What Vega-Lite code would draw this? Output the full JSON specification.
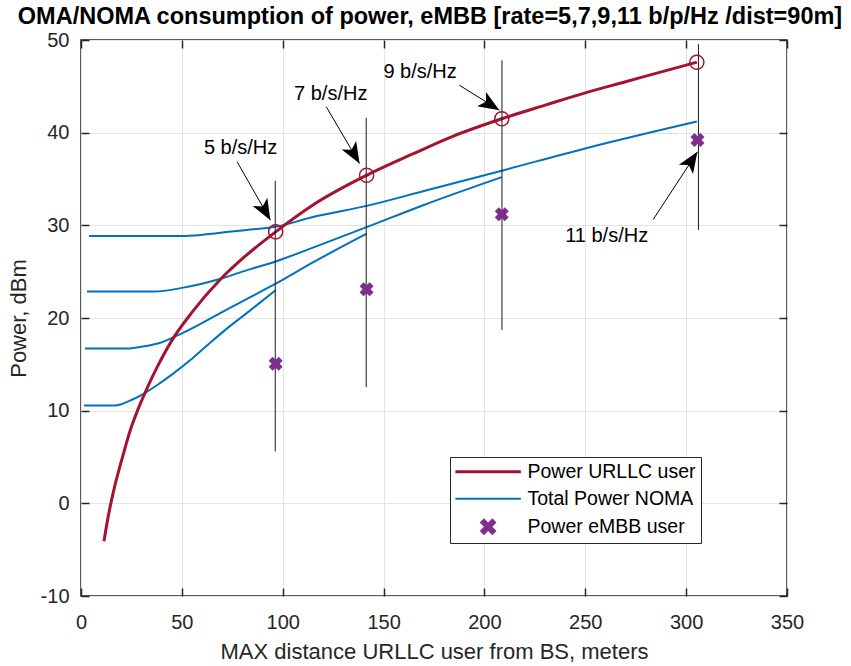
{
  "$schema": "https://vega.github.io/schema/vega-lite/v6.json",
  "width": 706,
  "height": 556,
  "autosize": {"type": "none"},
  "padding": {"left": 81, "top": 40, "right": 64, "bottom": 70},
  "background": "white",
  "title": {
    "text": "OMA/NOMA consumption of power, eMBB [rate=5,7,9,11 b/p/Hz /dist=90m]",
    "font": "Liberation Sans",
    "fontSize": 23.5,
    "fontWeight": "bold",
    "color": "#000000",
    "anchor": "middle",
    "baseline": "alphabetic",
    "offset": 12,
    "dx": -4,
    "dy": 29
  },
  "config": {
    "view": {"stroke": "#262626", "strokeWidth": 1.5},
    "font": "Liberation Sans",
    "legend": {"symbolSize": 350}
  },
  "datasets": {
    "urllc": [
      {"series": "Power URLLC user", "x": 11.4, "y": -4.1},
      {"series": "Power URLLC user", "x": 13, "y": -2.0},
      {"series": "Power URLLC user", "x": 15.2, "y": 0.4},
      {"series": "Power URLLC user", "x": 17, "y": 2.1},
      {"series": "Power URLLC user", "x": 19.3, "y": 4.0},
      {"series": "Power URLLC user", "x": 22, "y": 6.1},
      {"series": "Power URLLC user", "x": 24.3, "y": 7.8},
      {"series": "Power URLLC user", "x": 28, "y": 10.0},
      {"series": "Power URLLC user", "x": 32.5, "y": 12.3},
      {"series": "Power URLLC user", "x": 38, "y": 14.8},
      {"series": "Power URLLC user", "x": 45.7, "y": 17.8},
      {"series": "Power URLLC user", "x": 55, "y": 20.6},
      {"series": "Power URLLC user", "x": 68.8, "y": 24.1},
      {"series": "Power URLLC user", "x": 80, "y": 26.4},
      {"series": "Power URLLC user", "x": 96.5, "y": 29.3},
      {"series": "Power URLLC user", "x": 115, "y": 32.2},
      {"series": "Power URLLC user", "x": 141.6, "y": 35.4},
      {"series": "Power URLLC user", "x": 164.5, "y": 37.7},
      {"series": "Power URLLC user", "x": 184.3, "y": 39.6},
      {"series": "Power URLLC user", "x": 208.6, "y": 41.5},
      {"series": "Power URLLC user", "x": 230.5, "y": 43.0},
      {"series": "Power URLLC user", "x": 250, "y": 44.3},
      {"series": "Power URLLC user", "x": 270, "y": 45.5},
      {"series": "Power URLLC user", "x": 290, "y": 46.7},
      {"series": "Power URLLC user", "x": 305.3, "y": 47.6}
    ],
    "noma": [
      {"series": "Total Power NOMA", "curve": "11", "x": 4, "y": 28.85},
      {"series": "Total Power NOMA", "curve": "11", "x": 52, "y": 28.85},
      {"series": "Total Power NOMA", "curve": "11", "x": 65, "y": 29.1},
      {"series": "Total Power NOMA", "curve": "11", "x": 82, "y": 29.5},
      {"series": "Total Power NOMA", "curve": "11", "x": 96.5, "y": 29.85},
      {"series": "Total Power NOMA", "curve": "11", "x": 115, "y": 30.9},
      {"series": "Total Power NOMA", "curve": "11", "x": 141.6, "y": 32.1},
      {"series": "Total Power NOMA", "curve": "11", "x": 170, "y": 33.7},
      {"series": "Total Power NOMA", "curve": "11", "x": 208.6, "y": 35.9},
      {"series": "Total Power NOMA", "curve": "11", "x": 250, "y": 38.3},
      {"series": "Total Power NOMA", "curve": "11", "x": 305.3, "y": 41.2},
      {"series": "Total Power NOMA", "curve": "9", "x": 3, "y": 22.85},
      {"series": "Total Power NOMA", "curve": "9", "x": 36.6, "y": 22.85},
      {"series": "Total Power NOMA", "curve": "9", "x": 50, "y": 23.25},
      {"series": "Total Power NOMA", "curve": "9", "x": 60, "y": 23.7},
      {"series": "Total Power NOMA", "curve": "9", "x": 68.8, "y": 24.2},
      {"series": "Total Power NOMA", "curve": "9", "x": 80, "y": 25.0},
      {"series": "Total Power NOMA", "curve": "9", "x": 96.5, "y": 26.1},
      {"series": "Total Power NOMA", "curve": "9", "x": 115, "y": 27.6},
      {"series": "Total Power NOMA", "curve": "9", "x": 141.6, "y": 29.8},
      {"series": "Total Power NOMA", "curve": "9", "x": 170, "y": 32.2},
      {"series": "Total Power NOMA", "curve": "9", "x": 208.6, "y": 35.2},
      {"series": "Total Power NOMA", "curve": "7", "x": 2, "y": 16.72},
      {"series": "Total Power NOMA", "curve": "7", "x": 24.3, "y": 16.72},
      {"series": "Total Power NOMA", "curve": "7", "x": 30, "y": 16.9},
      {"series": "Total Power NOMA", "curve": "7", "x": 39, "y": 17.3},
      {"series": "Total Power NOMA", "curve": "7", "x": 50, "y": 18.35},
      {"series": "Total Power NOMA", "curve": "7", "x": 68.8, "y": 20.5},
      {"series": "Total Power NOMA", "curve": "7", "x": 80, "y": 21.8},
      {"series": "Total Power NOMA", "curve": "7", "x": 96.5, "y": 23.7},
      {"series": "Total Power NOMA", "curve": "7", "x": 115, "y": 26.0},
      {"series": "Total Power NOMA", "curve": "7", "x": 141.6, "y": 29.1},
      {"series": "Total Power NOMA", "curve": "5", "x": 1.5, "y": 10.55},
      {"series": "Total Power NOMA", "curve": "5", "x": 16.8, "y": 10.55},
      {"series": "Total Power NOMA", "curve": "5", "x": 20, "y": 10.7},
      {"series": "Total Power NOMA", "curve": "5", "x": 25, "y": 11.15},
      {"series": "Total Power NOMA", "curve": "5", "x": 31.7, "y": 11.9},
      {"series": "Total Power NOMA", "curve": "5", "x": 38, "y": 12.8},
      {"series": "Total Power NOMA", "curve": "5", "x": 45.7, "y": 14.0},
      {"series": "Total Power NOMA", "curve": "5", "x": 55, "y": 15.6},
      {"series": "Total Power NOMA", "curve": "5", "x": 63.9, "y": 17.3},
      {"series": "Total Power NOMA", "curve": "5", "x": 72, "y": 18.8},
      {"series": "Total Power NOMA", "curve": "5", "x": 82, "y": 20.5},
      {"series": "Total Power NOMA", "curve": "5", "x": 96.5, "y": 23.0}
    ],
    "embb": [
      {"series": "Power eMBB user", "x": 96.5, "y": 15.05},
      {"series": "Power eMBB user", "x": 141.6, "y": 23.1},
      {"series": "Power eMBB user", "x": 208.6, "y": 31.2},
      {"series": "Power eMBB user", "x": 305.6, "y": 39.2}
    ],
    "circles": [
      {"x": 96.5, "y": 29.3},
      {"x": 141.6, "y": 35.4},
      {"x": 208.6, "y": 41.5},
      {"x": 305.3, "y": 47.6}
    ],
    "vlines": [
      {"x": 96.3, "y": 34.8, "y2": 5.6},
      {"x": 141.4, "y": 41.6, "y2": 12.55},
      {"x": 208.7, "y": 47.8, "y2": 18.7},
      {"x": 306.1, "y": 49.55, "y2": 29.5}
    ],
    "arrows": [
      {"label": "5 b/s/Hz", "x": 77.4, "y": 36.85, "x2": 93.9, "y2": 30.56},
      {"label": "7 b/s/Hz", "x": 121.6, "y": 42.78, "x2": 138.1, "y2": 36.68},
      {"label": "9 b/s/Hz", "x": 187.6, "y": 45.12, "x2": 207.4, "y2": 42.43},
      {"label": "11 b/s/Hz", "x": 283.7, "y": 30.64, "x2": 305.6, "y2": 37.93}
    ],
    "labels": [
      {"label": "5 b/s/Hz", "x": 79.1, "y": 38.33},
      {"label": "7 b/s/Hz", "x": 123.8, "y": 44.15},
      {"label": "9 b/s/Hz", "x": 168.1, "y": 46.6},
      {"label": "11 b/s/Hz", "x": 260.6, "y": 28.8}
    ]
  },
  "resolve": {"axis": {"x": "independent", "y": "independent"}},
  "layer": [
    {
      "data": {"name": "noma"},
      "mark": {"type": "line", "strokeWidth": 2, "clip": true, "interpolate": "monotone"},
      "encoding": {
        "x": {
          "field": "x", "type": "quantitative",
          "scale": {"domain": [0, 350], "nice": false, "zero": false},
          "axis": {
            "orient": "bottom",
            "values": [0, 50, 100, 150, 200, 250, 300, 350],
            "title": "MAX distance URLLC user from BS, meters",
            "domain": false,
            "grid": true, "gridColor": "#e4e4e4", "gridWidth": 1,
            "ticks": true, "tickSize": -8, "tickColor": "#262626", "tickWidth": 1.5,
            "labelPadding": 24, "labelFontSize": 20, "labelFont": "Liberation Sans", "labelColor": "#262626",
            "labelFlush": false,
            "titleFontSize": 22, "titleFont": "Liberation Sans", "titleFontWeight": "normal", "titleColor": "#262626",
            "titlePadding": 9
          }
        },
        "y": {
          "field": "y", "type": "quantitative",
          "scale": {"domain": [-10, 50], "nice": false, "zero": false},
          "axis": {
            "orient": "left",
            "values": [-10, 0, 10, 20, 30, 40, 50],
            "labelExpr": "'' + datum.value",
            "title": "Power, dBm",
            "domain": false,
            "grid": true, "gridColor": "#e4e4e4", "gridWidth": 1,
            "ticks": true, "tickSize": -8, "tickColor": "#262626", "tickWidth": 1.5,
            "labelPadding": 20, "labelFontSize": 20, "labelFont": "Liberation Sans", "labelColor": "#262626",
            "labelFlush": false,
            "titleFontSize": 22, "titleFont": "Liberation Sans", "titleFontWeight": "normal", "titleColor": "#262626",
            "titlePadding": 10
          }
        },
        "detail": {"field": "curve"},
        "color": {
          "field": "series", "type": "nominal",
          "scale": {"domain": ["Power URLLC user", "Total Power NOMA", "Power eMBB user"], "range": ["#A2142F", "#0072BD", "#7E2F8E"]},
          "legend": {
            "orient": "none", "legendX": 369, "legendY": 417,
            "title": null,
            "padding": 5,
            "strokeColor": "#262626", "fillColor": "white",
            "labelFontSize": 19.5, "labelFont": "Liberation Sans", "labelColor": "#000000", "labelLimit": 400,
            "labelOffset": 53, "rowPadding": 6, "symbolSize": 350,
            "encode": {
              "symbols": {
                "update": {
                  "shape": {"signal": "datum.value === 'Power eMBB user' ? 'M1.75,-0.45L2.05,-0.75L2.5,-0.3L2.95,-0.75L3.25,-0.45L2.8,0L3.25,0.45L2.95,0.75L2.5,0.3L2.05,0.75L1.75,0.45L2.2,0Z' : 'M-1,0L6,0'"},
                  "fill": {"signal": "datum.value === 'Power eMBB user' ? '#7E2F8E' : 'transparent'"},
                  "stroke": {"signal": "datum.value === 'Power URLLC user' ? '#A2142F' : (datum.value === 'Total Power NOMA' ? '#0072BD' : 'transparent')"},
                  "strokeWidth": {"signal": "datum.value === 'Power URLLC user' ? 3 : 2"},
                  "opacity": {"value": 1},
                  "fillOpacity": {"value": 1},
                  "strokeOpacity": {"value": 1}
                }
              }
            }
          }
        }
      }
    },
    {
      "data": {"name": "urllc"},
      "mark": {"type": "line", "strokeWidth": 3, "clip": true, "interpolate": "monotone"},
      "encoding": {
        "x": {
          "field": "x", "type": "quantitative",
          "axis": {
            "orient": "top", "values": [0, 50, 100, 150, 200, 250, 300, 350],
            "labels": false, "title": null, "domain": false, "grid": false,
            "tickSize": -8, "tickColor": "#262626", "tickWidth": 1.5
          }
        },
        "y": {
          "field": "y", "type": "quantitative",
          "axis": {
            "orient": "right", "values": [-10, 0, 10, 20, 30, 40, 50],
            "labels": false, "title": null, "domain": false, "grid": false,
            "tickSize": -8, "tickColor": "#262626", "tickWidth": 1.5
          }
        },
        "color": {"field": "series", "type": "nominal"}
      }
    },
    {
      "data": {"name": "vlines"},
      "mark": {"type": "rule", "color": "#1a1a1a", "strokeWidth": 1},
      "encoding": {
        "x": {"field": "x", "type": "quantitative", "axis": null},
        "y": {"field": "y", "type": "quantitative", "axis": null},
        "y2": {"field": "y2"}
      }
    },
    {
      "data": {"name": "circles"},
      "mark": {"type": "point", "shape": "circle", "filled": false, "color": "#A2142F", "strokeWidth": 1.5, "size": 200, "opacity": 1},
      "encoding": {
        "x": {"field": "x", "type": "quantitative", "axis": null},
        "y": {"field": "y", "type": "quantitative", "axis": null}
      }
    },
    {
      "data": {"name": "embb"},
      "mark": {"type": "point", "shape": "cross", "angle": 45, "filled": true, "size": 200, "opacity": 1},
      "encoding": {
        "x": {"field": "x", "type": "quantitative", "axis": null},
        "y": {"field": "y", "type": "quantitative", "axis": null},
        "color": {"field": "series", "type": "nominal"}
      }
    },
    {
      "data": {"name": "arrows"},
      "mark": {"type": "rule", "color": "#000000", "strokeWidth": 1},
      "encoding": {
        "x": {"field": "x", "type": "quantitative", "axis": null},
        "y": {"field": "y", "type": "quantitative", "axis": null},
        "x2": {"field": "x2"},
        "y2": {"field": "y2"}
      }
    },
    {
      "data": {"name": "arrows"},
      "transform": [{"filter": "datum.label === '5 b/s/Hz'"}],
      "mark": {"type": "point", "shape": "M0,0L-0.8,2L0,1.5L0.8,2Z", "filled": true, "color": "#000000", "size": 441, "angle": 150.3, "opacity": 1},
      "encoding": {
        "x": {"field": "x2", "type": "quantitative", "axis": null},
        "y": {"field": "y2", "type": "quantitative", "axis": null}
      }
    },
    {
      "data": {"name": "arrows"},
      "transform": [{"filter": "datum.label === '7 b/s/Hz'"}],
      "mark": {"type": "point", "shape": "M0,0L-0.8,2L0,1.5L0.8,2Z", "filled": true, "color": "#000000", "size": 441, "angle": 149.5, "opacity": 1},
      "encoding": {
        "x": {"field": "x2", "type": "quantitative", "axis": null},
        "y": {"field": "y2", "type": "quantitative", "axis": null}
      }
    },
    {
      "data": {"name": "arrows"},
      "transform": [{"filter": "datum.label === '9 b/s/Hz'"}],
      "mark": {"type": "point", "shape": "M0,0L-0.8,2L0,1.5L0.8,2Z", "filled": true, "color": "#000000", "size": 441, "angle": 122, "opacity": 1},
      "encoding": {
        "x": {"field": "x2", "type": "quantitative", "axis": null},
        "y": {"field": "y2", "type": "quantitative", "axis": null}
      }
    },
    {
      "data": {"name": "arrows"},
      "transform": [{"filter": "datum.label === '11 b/s/Hz'"}],
      "mark": {"type": "point", "shape": "M0,0L-0.8,2L0,1.5L0.8,2Z", "filled": true, "color": "#000000", "size": 441, "angle": 33.2, "opacity": 1},
      "encoding": {
        "x": {"field": "x2", "type": "quantitative", "axis": null},
        "y": {"field": "y2", "type": "quantitative", "axis": null}
      }
    },
    {
      "data": {"name": "labels"},
      "mark": {"type": "text", "font": "Liberation Sans", "fontSize": 20, "color": "#000000", "align": "center", "baseline": "middle"},
      "encoding": {
        "x": {"field": "x", "type": "quantitative", "axis": null},
        "y": {"field": "y", "type": "quantitative", "axis": null},
        "text": {"field": "label"}
      }
    }
  ]
}
